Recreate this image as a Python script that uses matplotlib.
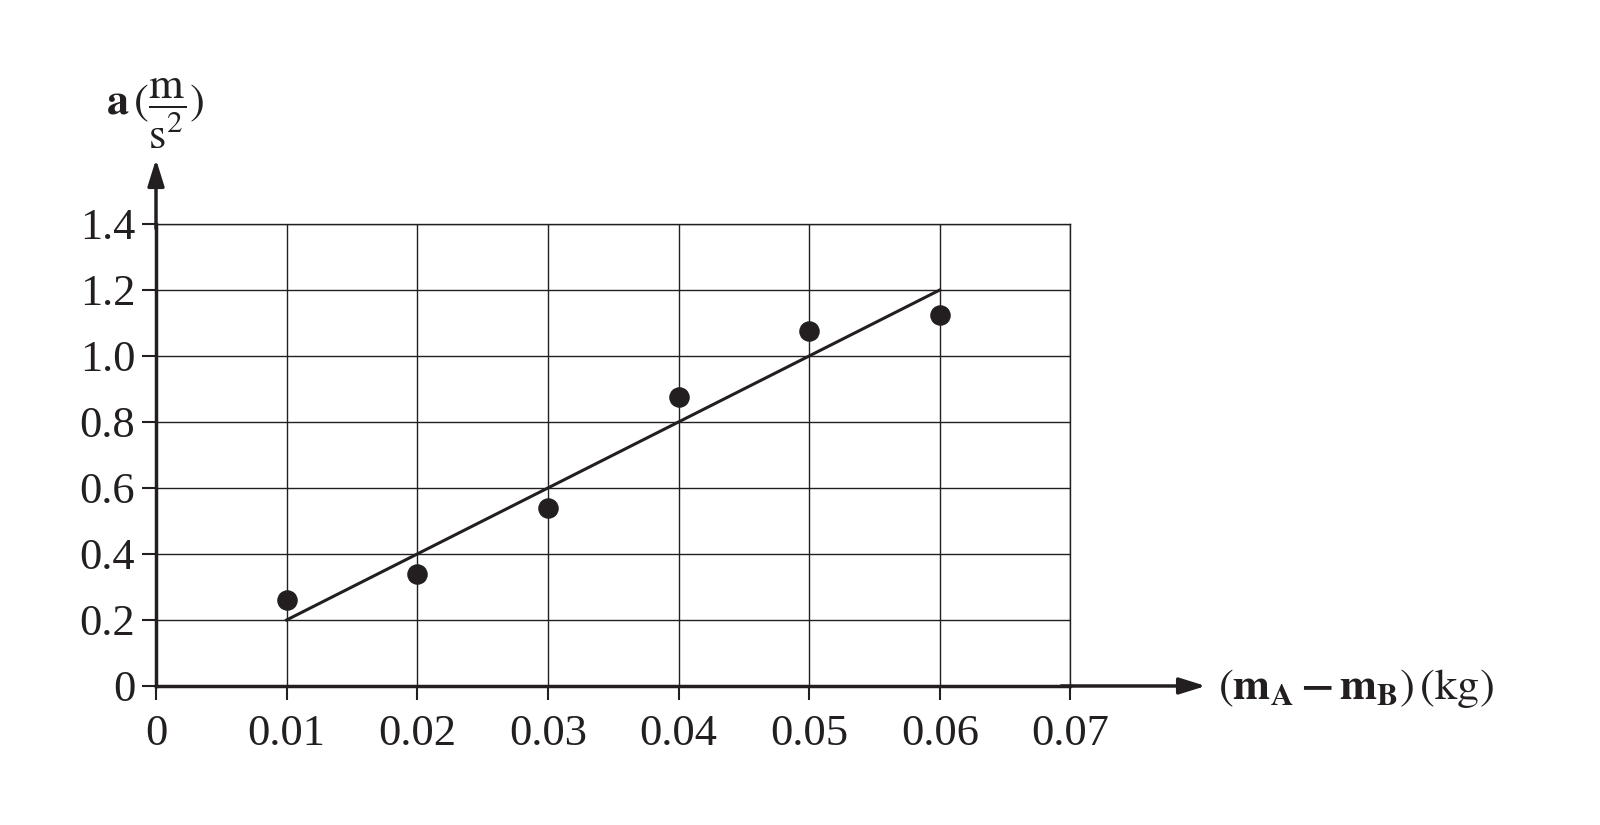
import matplotlib.pyplot as plt

plt.rcParams['font.family'] = ['Liberation Serif', 'DejaVu Serif']
plt.rcParams['mathtext.fontset'] = 'stix'

# measured data points
mass_diff = [0.01, 0.02, 0.03, 0.04, 0.05, 0.06]
accel = [0.26, 0.34, 0.54, 0.875, 1.075, 1.125]

# best-fit line drawn on the graph
fit_x = [0.01, 0.06]
fit_y = [0.2, 1.2]

xticks = [0, 0.01, 0.02, 0.03, 0.04, 0.05, 0.06, 0.07]
xticklabels = ['0', '0.01', '0.02', '0.03', '0.04', '0.05', '0.06', '0.07']
yticks = [0, 0.2, 0.4, 0.6, 0.8, 1.0, 1.2, 1.4]
yticklabels = ['0', '0.2', '0.4', '0.6', '0.8', '1.0', '1.2', '1.4']

ink = '#231f20'

fig = plt.figure(figsize=(16, 8.25), dpi=100)
ax = fig.add_axes([0.0975, 0.1685, 0.5715, 0.56])

ax.set_xlim(0, 0.07)
ax.set_ylim(0, 1.4)
ax.set_xticks(xticks)
ax.set_xticklabels(xticklabels)
ax.set_yticks(yticks)
ax.set_yticklabels(yticklabels)
ax.tick_params(labelsize=32, length=10, width=1.5, color=ink,
               labelcolor=ink, pad=5)
ax.tick_params(axis='x', pad=10)
ax.grid(True, color=ink, linewidth=1.0)
ax.set_axisbelow(True)

for side in ['top', 'right']:
    ax.spines[side].set_linewidth(1.0)
    ax.spines[side].set_color(ink)
for side in ['left', 'bottom']:
    ax.spines[side].set_linewidth(2.5)
    ax.spines[side].set_color(ink)

ax.plot(fit_x, fit_y, color=ink, linewidth=2.2, zorder=3)
ax.scatter(mass_diff, accel, s=190, color=ink, zorder=4)

# axis arrows
ax.annotate('', xy=(1.148, 0), xytext=(0.99, 0), xycoords='axes fraction',
            arrowprops=dict(arrowstyle='-|>,head_length=1.6,head_width=0.5',
                            color=ink, lw=2.5, shrinkA=0, shrinkB=0),
            annotation_clip=False)
ax.annotate('', xy=(0, 1.14), xytext=(0, 0.99), xycoords='axes fraction',
            arrowprops=dict(arrowstyle='-|>,head_length=1.6,head_width=0.5',
                            color=ink, lw=2.5, shrinkA=0, shrinkB=0),
            annotation_clip=False)

fig.text(0.097, 0.862, r'$\mathbf{a}\,(\dfrac{\mathrm{m}}{\mathrm{s}^2})$',
         fontsize=32, color=ink, ha='center', va='center')
fig.text(0.761, 0.165,
         r'$(\mathbf{m}_{\mathbf{A}}\,\mathbf{-}\,\mathbf{m}_{\mathbf{B}})\,(\mathrm{kg})$',
         fontsize=32, color=ink, ha='left', va='center')

fig.savefig('out.png', dpi=100)
